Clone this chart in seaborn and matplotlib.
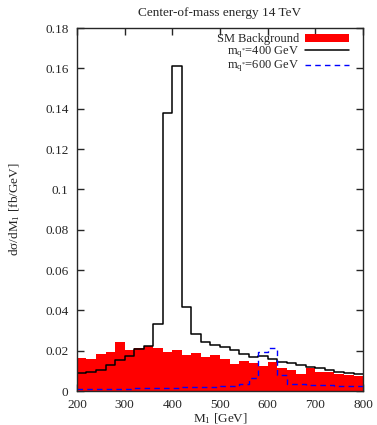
import numpy as np
import pandas as pd
import matplotlib
matplotlib.use('Agg')
import matplotlib.pyplot as plt
import seaborn as sns
from matplotlib.patches import Patch
from matplotlib.lines import Line2D
from matplotlib.ticker import FormatStrFormatter

# bin edges (20 GeV bins from 200 to 800)
edges = list(range(200, 801, 20))

# SM background (red filled)
sm_bkg = [0.0165, 0.0158, 0.0183, 0.0195, 0.0242, 0.0203, 0.0212, 0.0225, 0.0212, 0.0192,
          0.0203, 0.0180, 0.0187, 0.0167, 0.0180, 0.0158, 0.0133, 0.0147, 0.0137, 0.0125,
          0.0145, 0.0113, 0.0103, 0.0083, 0.0112, 0.0095, 0.0092, 0.0083, 0.0078, 0.0075]

# m_q* = 400 GeV (black solid)
sig_400 = [0.0088, 0.0095, 0.0105, 0.0128, 0.0153, 0.0173, 0.0208, 0.0225, 0.0333, 0.1380,
           0.1610, 0.0415, 0.0283, 0.0245, 0.0228, 0.0220, 0.0203, 0.0183, 0.0167, 0.0175,
           0.0158, 0.0142, 0.0138, 0.0130, 0.0117, 0.0112, 0.0103, 0.0092, 0.0090, 0.0082]

# m_q* = 600 GeV (blue dashed)
sig_600 = [0.0008, 0.0009, 0.0010, 0.0010, 0.0011, 0.0012, 0.0013, 0.0014, 0.0015, 0.0016,
           0.0017, 0.0018, 0.0019, 0.0020, 0.0021, 0.0023, 0.0025, 0.0035, 0.0065, 0.0195,
           0.0213, 0.0080, 0.0036, 0.0033, 0.0031, 0.0029, 0.0028, 0.0026, 0.0025, 0.0024]

centers = [(a + b) / 2 for a, b in zip(edges[:-1], edges[1:])]
df = pd.DataFrame({'M1': centers, 'bkg': sm_bkg, 's400': sig_400, 's600': sig_600})

sns.set_style('ticks')
plt.rcParams['font.family'] = ['Liberation Serif', 'DejaVu Serif']
plt.rcParams['mathtext.fontset'] = 'custom'
plt.rcParams['mathtext.rm'] = 'Liberation Serif'
plt.rcParams['mathtext.it'] = 'Liberation Serif:italic'
fs = 9.5
plt.rcParams['font.size'] = fs

fig = plt.figure(figsize=(3.77, 4.25), dpi=100)
ax = fig.add_axes([0.204, 0.08, 0.759, 0.854])

sns.histplot(data=df, x='M1', weights='bkg', bins=edges, element='step', fill=True,
             color='#ff0000', alpha=1, linewidth=0, ax=ax)
sns.histplot(data=df, x='M1', weights='s400', bins=edges, element='step', fill=False,
             color='black', linewidth=1.1, ax=ax)
sns.histplot(data=df, x='M1', weights='s600', bins=edges, element='step', fill=False,
             color='#0000ff', linewidth=1.0, linestyle=(0, (4, 3)), ax=ax)

ax.set_xlim(200, 800)
ax.set_ylim(0, 0.18)
ax.set_xticks(range(200, 801, 100))
ax.set_yticks(np.arange(0, 0.181, 0.02))
ax.yaxis.set_major_formatter(FormatStrFormatter('%g'))
ax.tick_params(direction='in', top=True, right=True, length=5, width=1, labelsize=fs)
ax.tick_params(axis='x', pad=6)
ax.tick_params(axis='y', pad=6)
for s in ax.spines.values():
    s.set_linewidth(1)

ax.set_xlabel('M$_1$ [GeV]', fontsize=fs, labelpad=0)
ax.set_ylabel('dσ/dM$_1$ [fb/GeV]', fontsize=fs, labelpad=17)
ax.set_title('Center-of-mass energy 14 TeV', fontsize=fs, pad=8.5)

handles = [Patch(facecolor='#ff0000', edgecolor='none'),
           Line2D([], [], color='black', linewidth=1.1),
           Line2D([], [], color='#0000ff', linewidth=1.0, linestyle=(0, (4, 3)))]
labels = ['SM Background', 'm$_{\\mathrm{q}^{*}}$=400 GeV', 'm$_{\\mathrm{q}^{*}}$=600 GeV']
ax.legend(handles, labels, loc='upper right', bbox_to_anchor=(0.951, 0.985),
          frameon=False, markerfirst=False,
          handlelength=3.5, handleheight=0.5, handletextpad=0.5, labelspacing=-0.1,
          borderaxespad=0, borderpad=0, fontsize=9)

fig.savefig('out.png', dpi=100)
